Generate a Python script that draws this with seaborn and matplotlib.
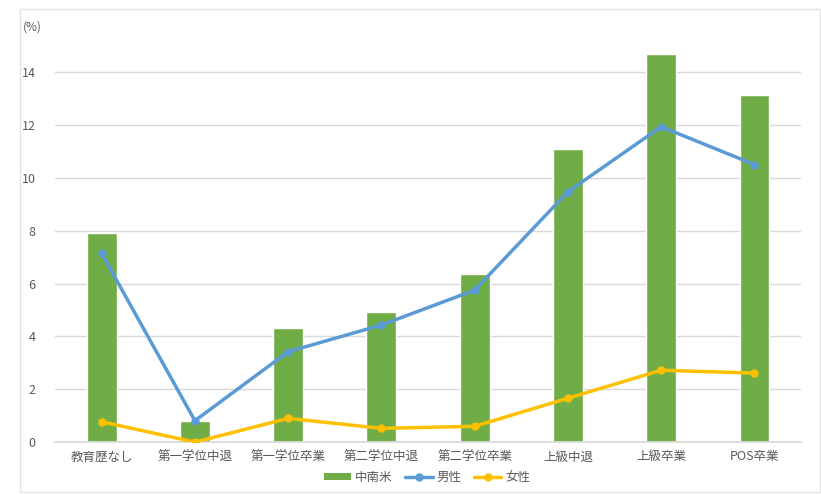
import numpy as np
import pandas as pd
import seaborn as sns
import matplotlib.pyplot as plt
from matplotlib.patches import Patch, Rectangle
from matplotlib.lines import Line2D

categories = ['教育歴なし', '第一学位中退', '第一学位卒業', '第二学位中退',
              '第二学位卒業', '上級中退', '上級卒業', 'POS卒業']
region_vals = [7.9, 0.81, 4.33, 4.92, 6.36, 11.09, 14.68, 13.14]
male_vals = [7.14, 0.81, 3.42, 4.43, 5.75, 9.47, 11.93, 10.5]
female_vals = [0.77, 0.0, 0.9, 0.52, 0.6, 1.66, 2.72, 2.61]
y_ticks = [0, 2, 4, 6, 8, 10, 12, 14]

green = '#70AD47'
blue = '#5B9BD5'
gold = '#FFC000'
grey_txt = '#595959'

sns.set_theme(style='white')
plt.rcParams['font.family'] = ['Noto Sans CJK JP', 'DejaVu Sans']

fig = plt.figure(figsize=(8.21, 4.94), dpi=100)
ax = fig.add_axes([0.067, 0.105, 0.9087, 0.8295])

df = pd.DataFrame({'cat': categories, 'region': region_vals,
                   'male': male_vals, 'female': female_vals})

sns.barplot(data=df, x='cat', y='region', color=green, width=0.32,
            saturation=1, ax=ax, zorder=2)
x = np.arange(len(categories))
ax.plot(x, df['male'], color=blue, lw=2.5, marker='o', ms=5, zorder=3)
ax.plot(x, df['female'], color=gold, lw=2.5, marker='o', ms=5, zorder=3)

ax.set_ylim(0, 15.5)
ax.set_xlim(-0.5, len(categories) - 0.5)
ax.set_yticks(y_ticks)
ax.yaxis.grid(True, color='#D9D9D9', lw=1)
ax.set_axisbelow(True)
for s in ['top', 'right', 'left']:
    ax.spines[s].set_visible(False)
ax.spines['bottom'].set_color('#D9D9D9')
ax.set_xlabel('')
ax.set_ylabel('')
ax.tick_params(axis='both', length=0, labelsize=9, colors=grey_txt)
ax.tick_params(axis='y', pad=14)
ax.tick_params(axis='x', pad=6)

fig.text(23 / 821, 1 - 27 / 494, '(%)', fontsize=8.5, color=grey_txt, va='center')

handles = [Patch(facecolor=green, edgecolor='none'),
           Line2D([], [], color=blue, lw=2.5, marker='o', ms=5),
           Line2D([], [], color=gold, lw=2.5, marker='o', ms=5)]
fig.legend(handles, ['中南米', '男性', '女性'], loc='center',
           bbox_to_anchor=(0.52, 1 - 477 / 494), ncol=3, frameon=False,
           fontsize=9, labelcolor=grey_txt, handlelength=2.2, handleheight=0.5,
           columnspacing=1.0, handletextpad=0.3)

fig.patches.append(Rectangle((20 / 821, 2 / 494), 800 / 821, 483 / 494,
                             transform=fig.transFigure, fill=False,
                             edgecolor='#E3E3E3', lw=1))

fig.savefig('out.png', dpi=100)
